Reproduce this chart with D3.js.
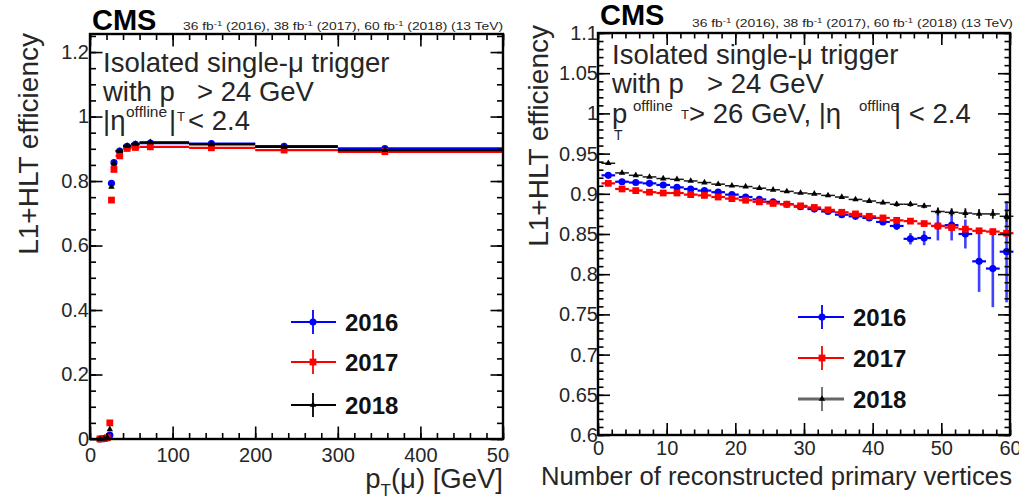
<!DOCTYPE html>
<html>
<head>
<meta charset="utf-8">
<script src="https://cdn.jsdelivr.net/npm/d3@7"></script>
<style>
  html, body { margin: 0; padding: 0; background: #fff; }
  svg { display: block; font-family: "Liberation Sans", Arial, Helvetica, sans-serif; }
</style>
</head>
<body>
<svg id="chart" width="1019" height="498"></svg>
<script>
// ---------- Efficiency vs muon pT (left panel) ----------
const ptCenter = [12, 17, 21, 24, 26, 29, 36, 45, 55, 73, 147, 235, 357];
const ptLow    = [10, 14, 19, 23, 25, 27, 31, 40, 50, 60, 120, 200, 300];
const ptHigh   = [14, 19, 23, 25, 27, 31, 40, 50, 60, 120, 200, 300, 500];
const effPt2016 = [0.000, 0.001, 0.003, 0.012, 0.793, 0.857, 0.893, 0.908, 0.914, 0.918, 0.916, 0.908, 0.901];
const effPt2017 = [0.000, 0.002, 0.004, 0.050, 0.741, 0.836, 0.878, 0.901, 0.904, 0.906, 0.903, 0.896, 0.891];
const effPt2018 = [0.000, 0.001, 0.004, 0.030, 0.782, 0.855, 0.893, 0.909, 0.915, 0.920, 0.914, 0.906, 0.896];

// ---------- Efficiency vs number of primary vertices (right panel) ----------
const npvCenter = [1.5, 3.5, 5.5, 7.5, 9.5, 11.5, 13.5, 15.5, 17.5, 19.5,
                   21.5, 23.5, 25.5, 27.5, 29.5, 31.5, 33.5, 35.5, 37.5, 39.5,
                   41.5, 43.5, 45.5, 47.5, 49.5, 51.5, 53.5, 55.5, 57.5, 59.5];
const effNpv2016 = [0.923, 0.915, 0.914, 0.913, 0.911, 0.908, 0.906, 0.904, 0.902, 0.899,
                    0.896, 0.893, 0.890, 0.887, 0.884, 0.881, 0.878, 0.874, 0.872, 0.870,
                    0.865, 0.860, 0.844, 0.845, 0.860, 0.861, 0.850, 0.816, 0.807, 0.828];
const errNpv2016 = [0.002, 0.001, 0.001, 0.001, 0.001, 0.001, 0.001, 0.001, 0.001, 0.001,
                    0.001, 0.001, 0.001, 0.001, 0.001, 0.002, 0.002, 0.002, 0.002, 0.003,
                    0.004, 0.005, 0.007, 0.009, 0.018, 0.019, 0.018, 0.038, 0.048, 0.063];
const effNpv2017 = [0.913, 0.906, 0.904, 0.902, 0.901, 0.901, 0.899, 0.898, 0.896, 0.894,
                    0.892, 0.890, 0.888, 0.887, 0.885, 0.883, 0.880, 0.877, 0.875, 0.872,
                    0.870, 0.867, 0.866, 0.863, 0.860, 0.858, 0.856, 0.854, 0.853, 0.851];
const errNpv2017 = [0.002, 0.001, 0.001, 0.001, 0.001, 0.001, 0.001, 0.001, 0.001, 0.001,
                    0.001, 0.001, 0.001, 0.001, 0.001, 0.001, 0.001, 0.001, 0.001, 0.001,
                    0.001, 0.001, 0.001, 0.002, 0.002, 0.002, 0.002, 0.003, 0.003, 0.004];
const effNpv2018 = [0.938, 0.926, 0.923, 0.921, 0.919, 0.918, 0.916, 0.914, 0.912, 0.910,
                    0.909, 0.907, 0.905, 0.903, 0.901, 0.900, 0.898, 0.896, 0.893, 0.891,
                    0.889, 0.887, 0.887, 0.885, 0.878, 0.877, 0.876, 0.875, 0.875, 0.872];
const errNpv2018 = [0.002, 0.001, 0.001, 0.001, 0.001, 0.001, 0.001, 0.001, 0.001, 0.001,
                    0.001, 0.001, 0.001, 0.001, 0.001, 0.001, 0.001, 0.002, 0.002, 0.002,
                    0.002, 0.003, 0.003, 0.003, 0.005, 0.005, 0.006, 0.006, 0.006, 0.007];

// ---------- Legend entries and tick labels ----------
const years = ["2016", "2017", "2018"];
const ptMajorTicks = [0, 100, 200, 300, 400, 500];
const ptTickLabels = ["0", "100", "200", "300", "400", "500"];
const effPtMajorTicks = [0, 0.2, 0.4, 0.6, 0.8, 1.0, 1.2];
const effPtTickLabels = ["0", "0.2", "0.4", "0.6", "0.8", "1", "1.2"];
const npvMajorTicks = [0, 10, 20, 30, 40, 50, 60];
const npvTickLabels = ["0", "10", "20", "30", "40", "50", "60"];
const effNpvMajorTicks = [0.6, 0.65, 0.7, 0.75, 0.8, 0.85, 0.9, 0.95, 1.0, 1.05, 1.1];
const effNpvTickLabels = ["0.6", "0.65", "0.7", "0.75", "0.8", "0.85", "0.9", "0.95", "1", "1.05", "1.1"];

const svg = d3.select("#chart");
const TXT = "#262626";

const seriesStyle = {
  "2016": { color: "#0000ff", symbol: d3.symbolCircle,   size: 40 },
  "2017": { color: "#ff0000", symbol: d3.symbolSquare,   size: 46 },
  "2018": { color: "#000000", symbol: d3.symbolTriangle, size: 18 }
};

function range(a, b, step) {
  const out = [];
  for (let v = a; v <= b + step * 1e-6; v += step) out.push(+v.toFixed(4));
  return out;
}

// Frame with inward ROOT-style major/minor ticks on all four sides
function drawFrame(g, x, y, o) {
  const [x0, x1] = x.range();
  const [y0, y1] = y.range(); // y0 bottom, y1 top
  const minorX = range(x.domain()[0], x.domain()[1], o.xMinor);
  const minorY = range(y.domain()[0], y.domain()[1], o.yMinor);
  const fmt = (ticks, labels) => d => labels[ticks.findIndex(t => Math.abs(t - d) < 1e-9)];

  const add = (axis, tr) => {
    const a = g.append("g").attr("transform", tr).call(axis);
    a.select(".domain").remove();
    a.selectAll("line").attr("stroke", "#000").attr("stroke-width", 1.6);
    return a;
  };
  // bottom
  add(d3.axisBottom(x).tickValues(minorX).tickSize(-o.minorLen).tickFormat(""), `translate(0,${y0})`);
  const bx = add(d3.axisBottom(x).tickValues(o.xMajor).tickSize(-o.majorLen).tickPadding(o.xPad)
      .tickFormat(fmt(o.xMajor, o.xLabels)), `translate(0,${y0})`);
  bx.selectAll("text").attr("font-size", o.tickFont).attr("fill", TXT).attr("font-family", null);
  // top
  add(d3.axisTop(x).tickValues(minorX).tickSize(-o.minorLen).tickFormat(""), `translate(0,${y1})`);
  add(d3.axisTop(x).tickValues(o.xMajor).tickSize(-o.majorLen).tickFormat(""), `translate(0,${y1})`);
  // left
  add(d3.axisLeft(y).tickValues(minorY).tickSize(-o.minorLen).tickFormat(""), `translate(${x0},0)`);
  const ly = add(d3.axisLeft(y).tickValues(o.yMajor).tickSize(-o.majorLen).tickPadding(o.yPad)
      .tickFormat(fmt(o.yMajor, o.yLabels)), `translate(${x0},0)`);
  ly.selectAll("text").attr("font-size", o.tickFont).attr("fill", TXT).attr("font-family", null);
  // right
  add(d3.axisRight(y).tickValues(minorY).tickSize(-o.minorLen).tickFormat(""), `translate(${x1},0)`);
  add(d3.axisRight(y).tickValues(o.yMajor).tickSize(-o.majorLen).tickFormat(""), `translate(${x1},0)`);

  g.append("rect")
    .attr("x", x0).attr("y", y1).attr("width", x1 - x0).attr("height", y0 - y1)
    .attr("fill", "none").attr("stroke", "#000").attr("stroke-width", 2.4);
}

function drawMarker(g, year, cx, cy) {
  const s = seriesStyle[year];
  g.append("path")
    .attr("d", d3.symbol().type(s.symbol).size(s.size)())
    .attr("transform", `translate(${cx},${cy})`)
    .attr("fill", s.color);
}

function drawLegend(g, x0, xm, x1, xText, ys, lineColors, lineWidths) {
  years.forEach((yr, i) => {
    const yy = ys[i];
    const c = lineColors[i];
    g.append("line").attr("x1", x0).attr("x2", x1).attr("y1", yy).attr("y2", yy)
      .attr("stroke", c).attr("stroke-width", lineWidths[i]);
    g.append("line").attr("x1", xm).attr("x2", xm).attr("y1", yy - 12).attr("y2", yy + 12)
      .attr("stroke", c).attr("stroke-width", 1.8);
    drawMarker(g, yr, xm, yy);
    g.append("text").attr("x", xText).attr("y", yy + 8.5)
      .attr("font-size", 24).attr("font-weight", "bold").attr("fill", "#111").text(yr);
  });
}

// Luminosity / energy label, stretched to the plot width
function lumiText(g, xEnd, yBase, width) {
  const t = g.append("text").attr("x", xEnd - width).attr("y", yBase)
    .attr("font-size", 11.5).attr("fill", TXT)
    .attr("textLength", width).attr("lengthAdjust", "spacingAndGlyphs");
  const parts = [["36 fb", 0], ["-1", 1], [" (2016), 38 fb", 0], ["-1", 1],
                 [" (2017), 60 fb", 0], ["-1", 1], [" (2018) (13 TeV)", 0]];
  let prev = 0;
  parts.forEach(([s, sup]) => {
    t.append("tspan").attr("dy", sup ? -4 : (prev ? 4 : 0))
      .attr("font-size", sup ? 8 : 11.5).text(s);
    prev = sup;
  });
}

function txt(g, x, y, size, s, extra) {
  const t = g.append("text").attr("x", x).attr("y", y).attr("font-size", size).attr("fill", TXT).text(s);
  if (extra) extra(t);
  return t;
}

// ======================= LEFT PANEL =======================
{
  svg.append("clipPath").attr("id", "clipLeft")
    .append("rect").attr("x", 0).attr("y", 0).attr("width", 510).attr("height", 498);
  const g = svg.append("g").attr("clip-path", "url(#clipLeft)");
  const x = d3.scaleLinear().domain([0, 500]).range([90, 503]);
  const y = d3.scaleLinear().domain([0, 1.256]).range([439, 34]);

  const series = { "2016": effPt2016, "2017": effPt2017, "2018": effPt2018 };
  years.forEach(yr => {
    const vals = series[yr];
    const s = seriesStyle[yr];
    const sg = g.append("g");
    ptCenter.forEach((pc, i) => {
      sg.append("line")
        .attr("x1", x(ptLow[i])).attr("x2", x(ptHigh[i]))
        .attr("y1", y(vals[i])).attr("y2", y(vals[i]))
        .attr("stroke", s.color).attr("stroke-width", 2.4);
    });
    ptCenter.forEach((pc, i) => drawMarker(sg, yr, x(pc), y(vals[i])));
  });

  drawFrame(g, x, y, {
    xMajor: ptMajorTicks, xLabels: ptTickLabels, xMinor: 20,
    yMajor: effPtMajorTicks, yLabels: effPtTickLabels, yMinor: 0.05,
    majorLen: 12.5, minorLen: 6, tickFont: 20, xPad: 9, yPad: 1
  });

  drawLegend(g, 291, 313, 336, 345, [322, 362, 405],
             ["#0000ff", "#ff0000", "#000000"], [2, 2, 2]);

  txt(g, 92, 30, 29, "CMS", t => t.attr("font-weight", "bold").attr("fill", "#000"));
  lumiText(g, 503, 30, 320);

  txt(g, 103, 72, 27.5, "Isolated single-\u03bc trigger");
  txt(g, 103, 101, 27.5, "with p");
  txt(g, 197, 101, 27.5, "> 24 GeV");
  txt(g, 103, 130, 27.5, "|\u03b7");
  txt(g, 126, 117, 15.5, "offline");
  txt(g, 169, 130, 27.5, "|");
  txt(g, 177, 121, 13, "T");
  txt(g, 188, 130, 27.5, "< 2.4");

  // axis titles
  g.append("text").attr("transform", "translate(38,33) rotate(-90)")
    .attr("text-anchor", "end").attr("font-size", 28).attr("fill", TXT).text("L1+HLT efficiency");
  const xt = g.append("text").attr("x", 503).attr("y", 488).attr("text-anchor", "end")
    .attr("font-size", 27.5).attr("fill", TXT);
  xt.append("tspan").text("p");
  xt.append("tspan").attr("dy", 8).attr("font-size", 17).text("T");
  xt.append("tspan").attr("dy", -8).text("(\u03bc) [GeV]");
}

// ======================= RIGHT PANEL =======================
{
  const g = svg.append("g");
  const x = d3.scaleLinear().domain([0, 60]).range([598, 1010]);
  const y = d3.scaleLinear().domain([0.6, 1.1]).range([435, 33]);

  const series = {
    "2016": [effNpv2016, errNpv2016, "#0000ff", 2.2],
    "2017": [effNpv2017, errNpv2017, "#ff0000", 2.2],
    "2018": [effNpv2018, errNpv2018, "#1a1a1a", 1.5]
  };
  years.forEach(yr => {
    const [vals, errs, col, lw] = series[yr];
    const sg = g.append("g");
    npvCenter.forEach((c, i) => {
      sg.append("line")
        .attr("x1", x(c - 1)).attr("x2", x(c + 1))
        .attr("y1", y(vals[i])).attr("y2", y(vals[i]))
        .attr("stroke", col).attr("stroke-width", lw);
      sg.append("line")
        .attr("x1", x(c)).attr("x2", x(c))
        .attr("y1", y(vals[i] - errs[i])).attr("y2", y(vals[i] + errs[i]))
        .attr("stroke", col).attr("stroke-width", lw + 0.4)
        .attr("stroke-opacity", yr === "2016" ? 0.75 : 1);
    });
    npvCenter.forEach((c, i) => drawMarker(sg, yr, x(c), y(vals[i])));
  });

  drawFrame(g, x, y, {
    xMajor: npvMajorTicks, xLabels: npvTickLabels, xMinor: 2,
    yMajor: effNpvMajorTicks, yLabels: effNpvTickLabels, yMinor: 0.01,
    majorLen: 12, minorLen: 5.5, tickFont: 20, xPad: 6, yPad: 0
  });

  drawLegend(g, 798, 822, 844, 853, [317, 358, 399],
             ["#0000ff", "#ff0000", "#666666"], [2, 2, 3.2]);

  txt(g, 600, 25, 29, "CMS", t => t.attr("font-weight", "bold").attr("fill", "#000"));
  lumiText(g, 1013, 27, 321);

  txt(g, 612, 63.5, 27.5, "Isolated single-\u03bc trigger");
  txt(g, 612, 93, 27.5, "with p");
  txt(g, 707, 93, 27.5, "> 24 GeV");
  txt(g, 612, 123, 27.5, "p");
  txt(g, 614, 140, 14, "T");
  txt(g, 633, 111, 15, "offline");
  txt(g, 681, 119, 13, "T");
  txt(g, 689, 123, 27.5, "> 26 GeV, |\u03b7");
  txt(g, 859, 111, 15, "offline");
  txt(g, 894, 123, 27.5, "| < 2.4");

  g.append("text").attr("transform", "translate(548,25) rotate(-90)")
    .attr("text-anchor", "end").attr("font-size", 28).attr("fill", TXT).text("L1+HLT efficiency");
  g.append("text").attr("x", 1012).attr("y", 485).attr("text-anchor", "end")
    .attr("font-size", 25.7).attr("fill", TXT).text("Number of reconstructed primary vertices");
}
</script>
</body>
</html>
